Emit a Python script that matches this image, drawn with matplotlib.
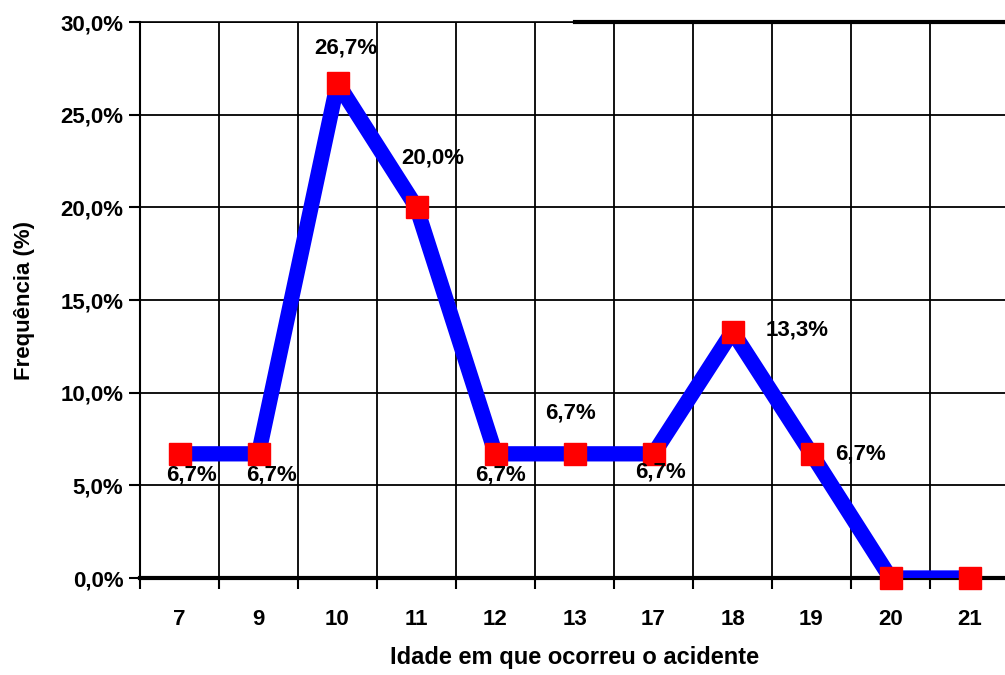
import numpy as np
import matplotlib.pyplot as plt
from matplotlib.ticker import FixedLocator, FuncFormatter

# --- Data ---
idades = ['7', '9', '10', '11', '12', '13', '17', '18', '19', '20', '21']
frequencia = [6.7, 6.7, 26.7, 20.0, 6.7, 6.7, 6.7, 13.3, 6.7, 0.0, 0.0]
# where each value label sits relative to its marker (pixels)
rotulo_offset = [(12, -21), (13, -21), (8, 35), (16, 49), (5, -21),
                 (-4, 41), (7, -18), (65, 2), (49, 0), None, None]

plt.rcParams['font.family'] = ['Liberation Sans', 'DejaVu Sans']
plt.rcParams['font.weight'] = 'bold'

fig = plt.figure(figsize=(10.05, 6.75), dpi=100)
ax = fig.add_axes([140 / 1005, 97 / 675, 869 / 1005, 556 / 675])

x = np.arange(len(idades))
ax.plot(x, frequencia, color='#0000ff', linewidth=11, solid_joinstyle='round',
        solid_capstyle='butt', zorder=3)
ax.plot(x, frequencia, linestyle='none', marker='s', markersize=16,
        markerfacecolor='#ff0000', markeredgecolor='#ff0000', zorder=4, clip_on=False)

for xi, yi, off in zip(x, frequencia, rotulo_offset):
    if off is None:
        continue
    ax.annotate(f"{yi:.1f}%".replace('.', ','), (xi, yi), xytext=off,
                textcoords='offset pixels', ha='center', va='center',
                fontsize=16, fontweight='bold', zorder=5)

# --- Axes ---
ax.set_xlim(-0.5, len(idades) - 0.5)
ax.set_ylim(0, 30)
ax.set_yticks(np.arange(0, 31, 5))
ax.yaxis.set_major_formatter(FuncFormatter(lambda v, p: f"{v:.1f}%".replace('.', ',')))
ax.set_xticks(x)
ax.set_xticklabels(idades)
ax.xaxis.set_minor_locator(FixedLocator(np.arange(-0.5, len(idades), 1)))

ax.tick_params(axis='x', which='major', length=0, pad=22, labelsize=16)
ax.tick_params(axis='x', which='minor', length=8, width=1.5, direction='out')
ax.tick_params(axis='y', length=8, width=1.5, direction='out', labelsize=16, pad=4)

ax.grid(True, axis='y', which='major', color='black', linewidth=1.3)
ax.grid(True, axis='x', which='minor', color='black', linewidth=1.3)
ax.set_axisbelow(True)

ax.spines['right'].set_visible(False)
ax.spines['top'].set_linewidth(1.2)
ax.spines['left'].set_linewidth(1.5)
ax.spines['bottom'].set_linewidth(3)
# heavier stretch of the top border
ax.plot([0.5, 1.0], [1.0, 1.0], transform=ax.transAxes, color='black',
        linewidth=3, clip_on=False, zorder=2)

ax.set_xlabel("Idade em que ocorreu o acidente", fontsize=17, fontweight='bold', labelpad=12)
ax.set_ylabel("Frequência (%)", fontsize=16, fontweight='bold', labelpad=18)

fig.savefig("out.png", dpi=100)
